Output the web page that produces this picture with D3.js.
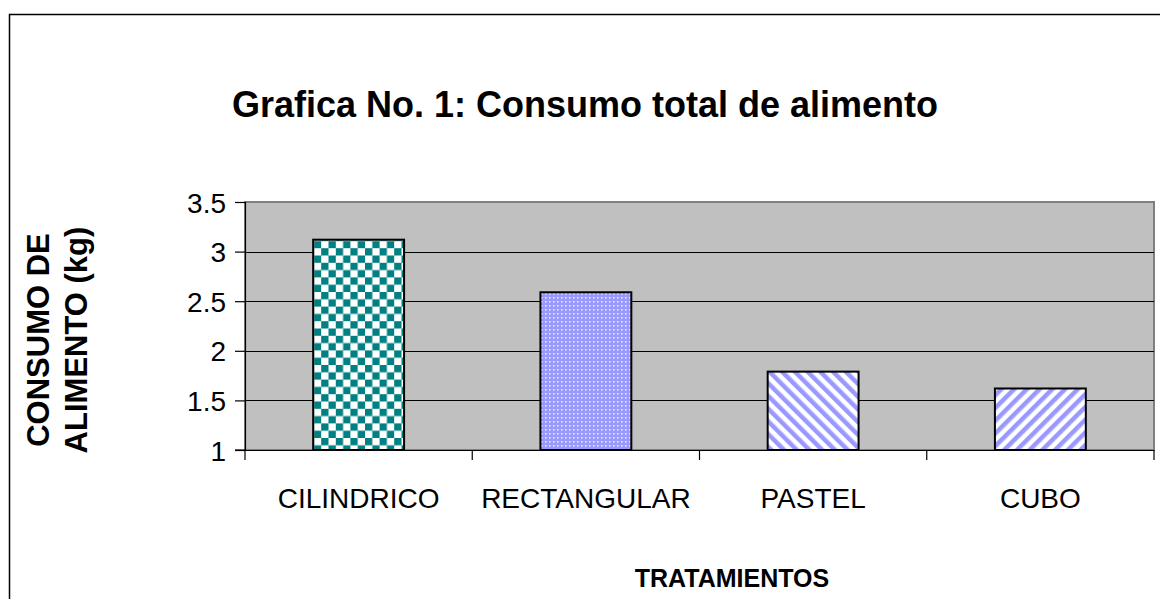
<!DOCTYPE html>
<html>
<head>
<meta charset="utf-8">
<script src="https://cdn.jsdelivr.net/npm/d3@7"></script>
<style>
  body { margin: 0; background: #fff; }
  text { font-family: "Liberation Sans", Arial, sans-serif; }
</style>
</head>
<body>
<div id="chart"></div>
<script>
// data
const categories = ["CILINDRICO", "RECTANGULAR", "PASTEL", "CUBO"];
const consumo = [3.12, 2.59, 1.79, 1.62];
const yTicks = [1, 1.5, 2, 2.5, 3, 3.5];
const patterns = ["checker", "dots", "diagDown", "diagUp"];

var width = 1160,
    height = 599;

var plot = { left: 245, top: 202, right: 1154, bottom: 450 };

var svg = d3.select("#chart").append("svg")
  .attr("width", width)
  .attr("height", height);

var defs = svg.append("defs");

// checkerboard teal/white
var pc = defs.append("pattern").attr("id", "checker")
  .attr("patternUnits", "userSpaceOnUse").attr("width", 14.6).attr("height", 14.6);
pc.append("rect").attr("width", 14.6).attr("height", 14.6).attr("fill", "#fff");
pc.append("rect").attr("width", 7.3).attr("height", 7.3).attr("fill", "#008080");
pc.append("rect").attr("x", 7.3).attr("y", 7.3).attr("width", 7.3).attr("height", 7.3).attr("fill", "#008080");

// fine dotted blue
var pd = defs.append("pattern").attr("id", "dots")
  .attr("patternUnits", "userSpaceOnUse").attr("width", 4).attr("height", 4);
pd.append("rect").attr("width", 4).attr("height", 4).attr("fill", "#9999ff");
pd.append("rect").attr("x", 1).attr("y", 1).attr("width", 1.6).attr("height", 1.6).attr("fill", "#e6e6ff");

// diagonal stripes
function stripes(id, angle) {
  var p = defs.append("pattern").attr("id", id)
    .attr("patternUnits", "userSpaceOnUse").attr("width", 9).attr("height", 9)
    .attr("patternTransform", "rotate(" + angle + ")");
  p.append("rect").attr("width", 9).attr("height", 9).attr("fill", "#fff");
  p.append("rect").attr("width", 4.5).attr("height", 9).attr("fill", "#9999ff");
}
stripes("diagDown", -45);
stripes("diagUp", 45);

// outer frame
svg.append("rect")
  .attr("x", 9.5).attr("y", 14.5)
  .attr("width", 1160).attr("height", 600)
  .attr("fill", "none").attr("stroke", "#000").attr("stroke-width", 1.5);

var x = d3.scaleBand()
  .domain(categories)
  .range([plot.left, plot.right])
  .paddingInner(0)
  .paddingOuter(0);

var y = d3.scaleLinear()
  .domain([1, 3.5])
  .range([plot.bottom, plot.top]);

// plot area
svg.append("rect")
  .attr("x", plot.left).attr("y", plot.top)
  .attr("width", plot.right - plot.left).attr("height", plot.bottom - plot.top)
  .attr("fill", "#c0c0c0").attr("stroke", "#808080").attr("stroke-width", 2);

// gridlines
svg.append("g").selectAll("line")
  .data(yTicks.slice(1, -1))
  .enter().append("line")
    .attr("x1", plot.left).attr("x2", plot.right)
    .attr("y1", function (d) { return Math.round(y(d)) + 0.5; })
    .attr("y2", function (d) { return Math.round(y(d)) + 0.5; })
    .attr("stroke", "#000").attr("stroke-width", 1);

// bars
var barW = x.bandwidth() / 2.5;
svg.append("g").selectAll("rect")
  .data(consumo)
  .enter().append("rect")
    .attr("x", function (d, i) { return x(categories[i]) + (x.bandwidth() - barW) / 2; })
    .attr("y", function (d) { return y(d); })
    .attr("width", barW)
    .attr("height", function (d) { return plot.bottom - y(d); })
    .attr("fill", function (d, i) { return "url(#" + patterns[i] + ")"; })
    .attr("stroke", "#000").attr("stroke-width", 2);

// y axis
var yAxis = svg.append("g")
  .attr("transform", "translate(" + plot.left + ",0)")
  .call(d3.axisLeft(y).tickValues(yTicks).tickSize(10).tickPadding(9)
    .tickFormat(function (d) { return String(d); }));
yAxis.select(".domain").attr("stroke", "#000").attr("stroke-width", 1.2);
yAxis.selectAll(".tick line").attr("stroke", "#000").attr("stroke-width", 1.2);
yAxis.selectAll("text")
  .attr("font-family", "'Liberation Sans', Arial, sans-serif")
  .attr("font-size", 28).attr("fill", "#000").attr("dy", "0.36em");

// x axis
var xAxis = svg.append("g")
  .attr("transform", "translate(0," + plot.bottom + ")")
  .call(d3.axisBottom(x).tickSize(0).tickPadding(38));
xAxis.select(".domain").attr("stroke", "#000").attr("stroke-width", 1.2);
xAxis.selectAll("text")
  .attr("font-family", "'Liberation Sans', Arial, sans-serif")
  .attr("font-size", 28).attr("fill", "#000");
xAxis.selectAll(".tick line").remove();
// category boundary ticks
svg.append("g").selectAll("line")
  .data(categories.concat([null]))
  .enter().append("line")
    .attr("x1", function (d, i) { return plot.left + i * x.bandwidth(); })
    .attr("x2", function (d, i) { return plot.left + i * x.bandwidth(); })
    .attr("y1", plot.bottom).attr("y2", plot.bottom + 10)
    .attr("stroke", "#000").attr("stroke-width", 1.2);
svg.append("line")
  .attr("x1", plot.left - 10).attr("x2", plot.left)
  .attr("y1", plot.bottom).attr("y2", plot.bottom)
  .attr("stroke", "#000").attr("stroke-width", 1.2);

// titles
svg.append("text")
  .attr("x", 585).attr("y", 117)
  .attr("text-anchor", "middle")
  .attr("font-size", 36).attr("font-weight", "bold")
  .text("Grafica No. 1: Consumo total de alimento");

svg.append("text")
  .attr("x", 732).attr("y", 587)
  .attr("text-anchor", "middle")
  .attr("font-size", 25).attr("font-weight", "bold")
  .text("TRATAMIENTOS");

var yt = svg.append("text")
  .attr("transform", "translate(49,340) rotate(-90)")
  .attr("text-anchor", "middle")
  .attr("font-size", 31).attr("font-weight", "bold");
yt.append("tspan").attr("x", 0).attr("dy", 0).text("CONSUMO DE");
yt.append("tspan").attr("x", 0).attr("dy", 38).text("ALIMENTO (kg)");
</script>
</body>
</html>
